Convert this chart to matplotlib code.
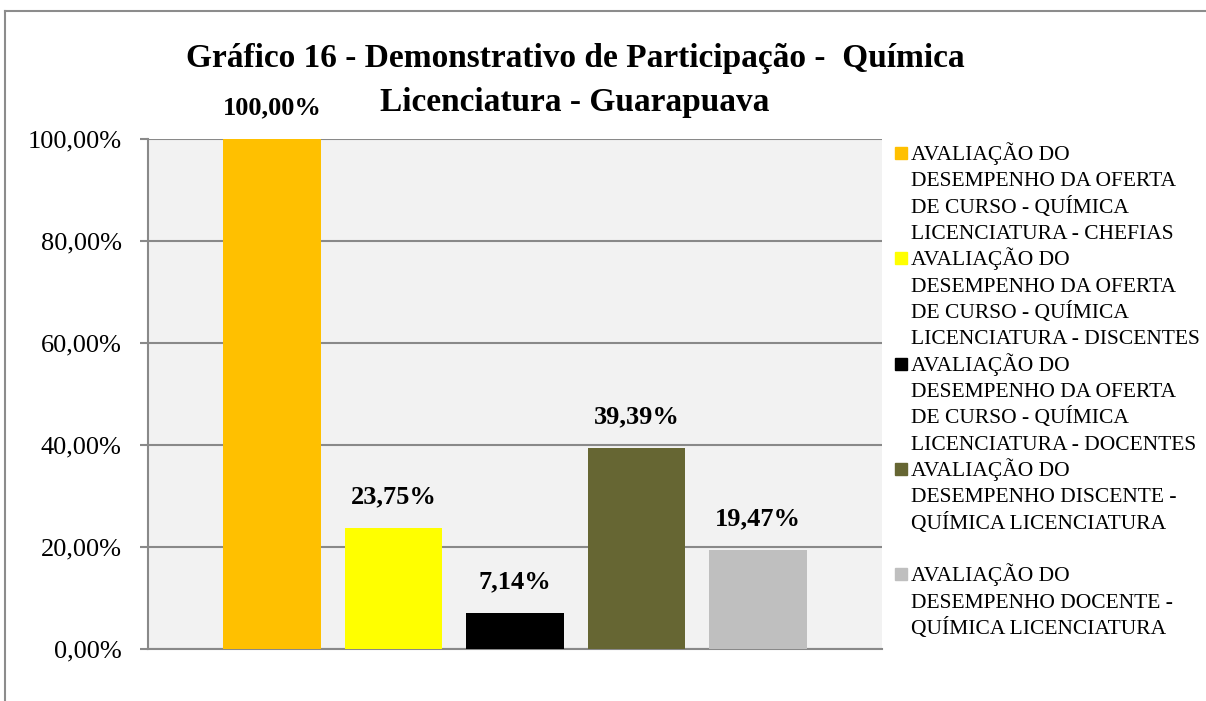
import matplotlib.pyplot as plt
from matplotlib.patches import Rectangle
from matplotlib.lines import Line2D

# data
series = [
    "AVALIAÇÃO DO\nDESEMPENHO DA OFERTA\nDE CURSO - QUÍMICA\nLICENCIATURA - CHEFIAS",
    "AVALIAÇÃO DO\nDESEMPENHO DA OFERTA\nDE CURSO - QUÍMICA\nLICENCIATURA - DISCENTES",
    "AVALIAÇÃO DO\nDESEMPENHO DA OFERTA\nDE CURSO - QUÍMICA\nLICENCIATURA - DOCENTES",
    "AVALIAÇÃO DO\nDESEMPENHO DISCENTE -\nQUÍMICA LICENCIATURA",
    "AVALIAÇÃO DO\nDESEMPENHO DOCENTE -\nQUÍMICA LICENCIATURA",
]
values = [100.00, 23.75, 7.14, 39.39, 19.47]
colors = ["#FFC000", "#FFFF00", "#000000", "#666633", "#BFBFBF"]
yticks = [0, 20, 40, 60, 80, 100]

plt.rcParams['font.family'] = ['Liberation Serif', 'DejaVu Serif']

W, H = 1206, 701
fig = plt.figure(figsize=(W / 100, H / 100), dpi=100)
ax = fig.add_axes([148 / W, 1 - 649 / H, (882 - 148) / W, (649 - 139) / H])

grid_c = "#898989"
ax.set_facecolor("#F2F2F2")
x = list(range(len(values)))
bars = ax.bar(x, values, width=0.8, color=colors, zorder=3)
for xi, v in zip(x, values):
    ax.text(xi, v + 3.8, f"{v:.2f}%".replace(".", ","), ha="center", va="bottom",
            fontsize=19, fontweight="bold", zorder=4)

ax.set_xlim(-1.02, 5.02)
ax.set_ylim(0, 100)
ax.set_yticks(yticks)
ax.set_yticklabels([f"{t:.2f}%".replace(".", ",") for t in yticks], fontsize=19)
ax.set_xticks([])
ax.yaxis.grid(True, color=grid_c, linewidth=1.5, zorder=1)
ax.tick_params(axis="y", length=6, width=1.5, color=grid_c, pad=13)
for s in ["top", "right"]:
    ax.spines[s].set_visible(False)
for s in ["left", "bottom"]:
    ax.spines[s].set_color(grid_c)
    ax.spines[s].set_linewidth(1.5)

# title
fig.text(575 / W, 1 - 58 / H, "Gráfico 16 - Demonstrativo de Participação -  Química",
         ha="center", va="center", fontsize=24, fontweight="bold")
fig.text(575 / W, 1 - 103 / H, "Licenciatura - Guarapuava",
         ha="center", va="center", fontsize=24, fontweight="bold")

# legend, one line at a time so the pitch stays even
top0 = 153
step = 105.3
pitch = 26.3
for i, (lab, c) in enumerate(zip(series, colors)):
    yc = top0 + i * step
    fig.patches.append(Rectangle((895 / W, 1 - (yc + 6) / H), 12 / W, 12 / H,
                                 transform=fig.transFigure, color=c, figure=fig))
    for j, line in enumerate(lab.split("\n")):
        fig.text(911 / W, 1 - (yc + 7 + j * pitch) / H, line, ha="left",
                 va="baseline", fontsize=15.5)

# outer border
fig.add_artist(Line2D([5 / W, 5 / W], [0, 1 - 11 / H], color="#8C8C8C", lw=1.5,
                      transform=fig.transFigure))
fig.add_artist(Line2D([5 / W, 1], [1 - 11 / H, 1 - 11 / H], color="#8C8C8C", lw=1.5,
                      transform=fig.transFigure))

fig.savefig("out.png", dpi=100)
